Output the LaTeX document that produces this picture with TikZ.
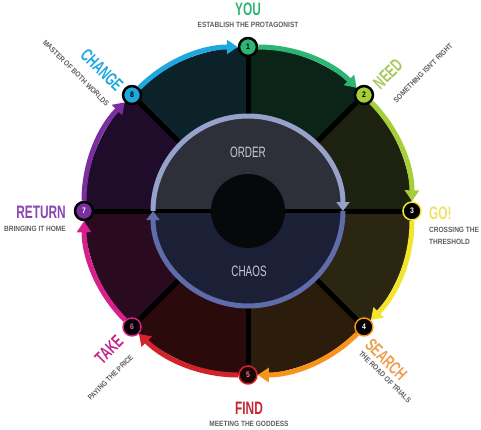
\documentclass[tikz,border=0pt]{standalone}
\usepackage{fontspec}
\setmainfont{Liberation Sans}
\newfontfamily\ttlfont[FakeStretch=0.66]{Liberation Sans Bold}
\newfontfamily\subfont[FakeStretch=0.86]{Liberation Sans Bold}
\newfontfamily\midfont[FakeStretch=0.66]{Liberation Sans}
\usetikzlibrary{arrows.meta}
\pgfdeclarelayer{bg}
\pgfsetlayers{bg,main}
\definecolor{cYou}{HTML}{2DB573}
\definecolor{cNeed}{HTML}{A6CE39}
\definecolor{cGo}{HTML}{F2E52C}
\definecolor{cSearch}{HTML}{F7941D}
\definecolor{cFind}{HTML}{D2232A}
\definecolor{cTake}{HTML}{D6208C}
\definecolor{cReturn}{HTML}{7B2E9E}
\definecolor{cChange}{HTML}{1FA8DF}
\definecolor{tGo}{HTML}{EDE36A}
\definecolor{tSearch}{HTML}{EE9E50}
\definecolor{tFind}{HTML}{C4262E}
\definecolor{tTake}{HTML}{C2288E}
\definecolor{tReturn}{HTML}{8A44B0}
\definecolor{tNeed}{HTML}{A5C95A}
\definecolor{subgrey}{HTML}{5E5E62}
\definecolor{w12}{HTML}{0A2418}
\definecolor{w23}{HTML}{1D2110}
\definecolor{w34}{HTML}{2A2612}
\definecolor{w45}{HTML}{2C1C0C}
\definecolor{w56}{HTML}{2A0A0A}
\definecolor{w67}{HTML}{2A0A1E}
\definecolor{w78}{HTML}{1E0C2A}
\definecolor{w81}{HTML}{0B2229}
\definecolor{inTop}{HTML}{2E3039}
\definecolor{inBot}{HTML}{1C2036}
\definecolor{ringTop}{HTML}{96A2CC}
\definecolor{ringBot}{HTML}{5E6CAA}
\definecolor{core}{HTML}{07080C}
\definecolor{inText}{HTML}{C5CAD8}
\tikzset{
  stepnode/.style={circle, minimum size=18pt, inner sep=0pt, line width=2.5pt,
    font=\subfont\fontsize{8}{8}\selectfont},
  ringnode/.style={stepnode, line width=1.5pt},
  arcline/.style={line width=5pt, -{Triangle[length=11pt,width=14pt]}},
  spoke/.style={line width=5pt, black},
  ttl/.style={inner sep=0pt, font=\ttlfont\fontsize{18}{18}\selectfont},
  sub/.style={inner sep=0pt, text=subgrey, font=\subfont\fontsize{7.6}{8}\selectfont},
  inring/.style={line width=5pt, -{Triangle[length=9pt,width=13pt]}},
  mid/.style={inner sep=0pt, text=inText, font=\midfont\fontsize{15}{15}\selectfont}
}
\begin{document}
\begin{tikzpicture}[x=1pt,y=1pt]
\useasboundingbox (0,0) rectangle (481,-429);
\coordinate (C) at (248,-211);
% step nodes
\node[stepnode, fill=cYou, draw=black, text=black] (n1) at ([shift={(90:164)}]C) {1};
\node[stepnode, fill=cNeed, draw=black, text=black] (n2) at ([shift={(45:164)}]C) {2};
\node[ringnode, fill=black, draw=cGo, text=white] (n3) at ([shift={(0:164)}]C) {3};
\node[ringnode, fill=black, draw=cSearch, text=white] (n4) at ([shift={(-45:164)}]C) {4};
\node[ringnode, fill={rgb,255:red,26;green,6;blue,6}, draw=cFind, text={rgb,255:red,240;green,128;blue,128}] (n5) at ([shift={(-90:164)}]C) {5};
\node[ringnode, fill=black, draw=cTake, text={rgb,255:red,230;green,100;blue,180}] (n6) at ([shift={(-135:164)}]C) {6};
\node[stepnode, fill=cReturn, draw=black, text=white] (n7) at ([shift={(180:164)}]C) {7};
\node[stepnode, fill=cChange, draw=black, text=black] (n8) at ([shift={(135:164)}]C) {8};
% wedges and spokes
\begin{pgfonlayer}{bg}
\foreach \a/\col in {45/w12, 0/w23, -45/w34, -90/w45, -135/w56, -180/w67, 135/w78, 90/w81}{
  \fill[\col] (C) -- ([shift={(\a:164)}]C) arc[start angle=\a, end angle=\a+45, radius=164] -- cycle;
}
\foreach \i in {1,...,8}{ \draw[spoke] (C) -- (n\i); }
\end{pgfonlayer}
% outer arcs
\draw[arcline, cYou] (n1) to[bend left=22.5, looseness=0.886] (n2);
\draw[arcline, cNeed] (n2) to[bend left=22.5, looseness=0.886] (n3);
\draw[arcline, cGo] (n3) to[bend left=22.5, looseness=0.886] (n4);
\draw[arcline, cSearch] (n4) to[bend left=22.5, looseness=0.886] (n5);
\draw[arcline, cFind] (n5) to[bend left=22.5, looseness=0.886] (n6);
\draw[arcline, cTake] (n6) to[bend left=22.5, looseness=0.886] (n7);
\draw[arcline, cReturn] (n7) to[bend left=22.5, looseness=0.886] (n8);
\draw[arcline, cChange] (n8) to[bend left=22.5, looseness=0.886] (n1);
% inner disk
\fill[inTop] ([shift={(180:95)}]C) arc[start angle=180, end angle=0, radius=95] -- cycle;
\fill[inBot] ([shift={(0:95)}]C) arc[start angle=0, end angle=-180, radius=95] -- cycle;
\draw[line width=4pt, black] ([shift={(180:95)}]C) -- ([shift={(0:95)}]C);
\node[circle, fill=core, minimum size=74pt, inner sep=0pt] (coreC) at (C) {};
\draw[inring, ringTop] ([shift={(180:95)}]C) arc[start angle=180, end angle=0, radius=95];
\draw[inring, ringBot] ([shift={(0:95)}]C) arc[start angle=0, end angle=-180, radius=95];
\node[mid] (order) at (248,-152.5) {ORDER};
\node[mid] (chaos) at (249,-271) {CHAOS};
% labels
\node[ttl, text=cYou] (tYou) at (248,-9) {YOU};
\node[sub] (sYou) at (248,-24.5) {ESTABLISH THE PROTAGONIST};
\node[ttl, text=tNeed, rotate=45] (tNeed) at (388,-74) {NEED};
\node[sub, rotate=45] (sNeed) at (423,-73) {SOMETHING ISN'T RIGHT};
\node[ttl, text=tGo, anchor=west] (tGo) at (429,-213) {GO!};
\node[sub, anchor=west] (sGo1) at (429,-230) {CROSSING THE};
\node[sub, anchor=west] (sGo2) at (429,-242) {THRESHOLD};
\node[ttl, text=tSearch, rotate=-45, anchor=north west] (tSearch) at (373,-337) {SEARCH};
\node[sub, rotate=-45, anchor=north west] (sSearch) at (362,-350) {THE ROAD OF TRIALS};
\node[ttl, text=tFind] (tFind) at (249,-408.5) {FIND};
\node[sub] (sFind) at (249,-423.5) {MEETING THE GODDESS};
\node[ttl, text=tTake, rotate=45] (tTake) at (109,-350) {TAKE};
\node[sub, rotate=45] (sTake) at (110.5,-377.5) {PAYING THE PRICE};
\node[ttl, text=tReturn, anchor=east] (tReturn) at (66,-212) {RETURN};
\node[sub, anchor=east] (sReturn) at (66,-229) {BRINGING IT HOME};
\node[ttl, text=cChange, rotate=-45] (tChange) at (102,-70) {CHANGE};
\node[sub, rotate=-45] (sChange) at (76,-73) {MASTER OF BOTH WORLDS};
\end{tikzpicture}
\end{document}
